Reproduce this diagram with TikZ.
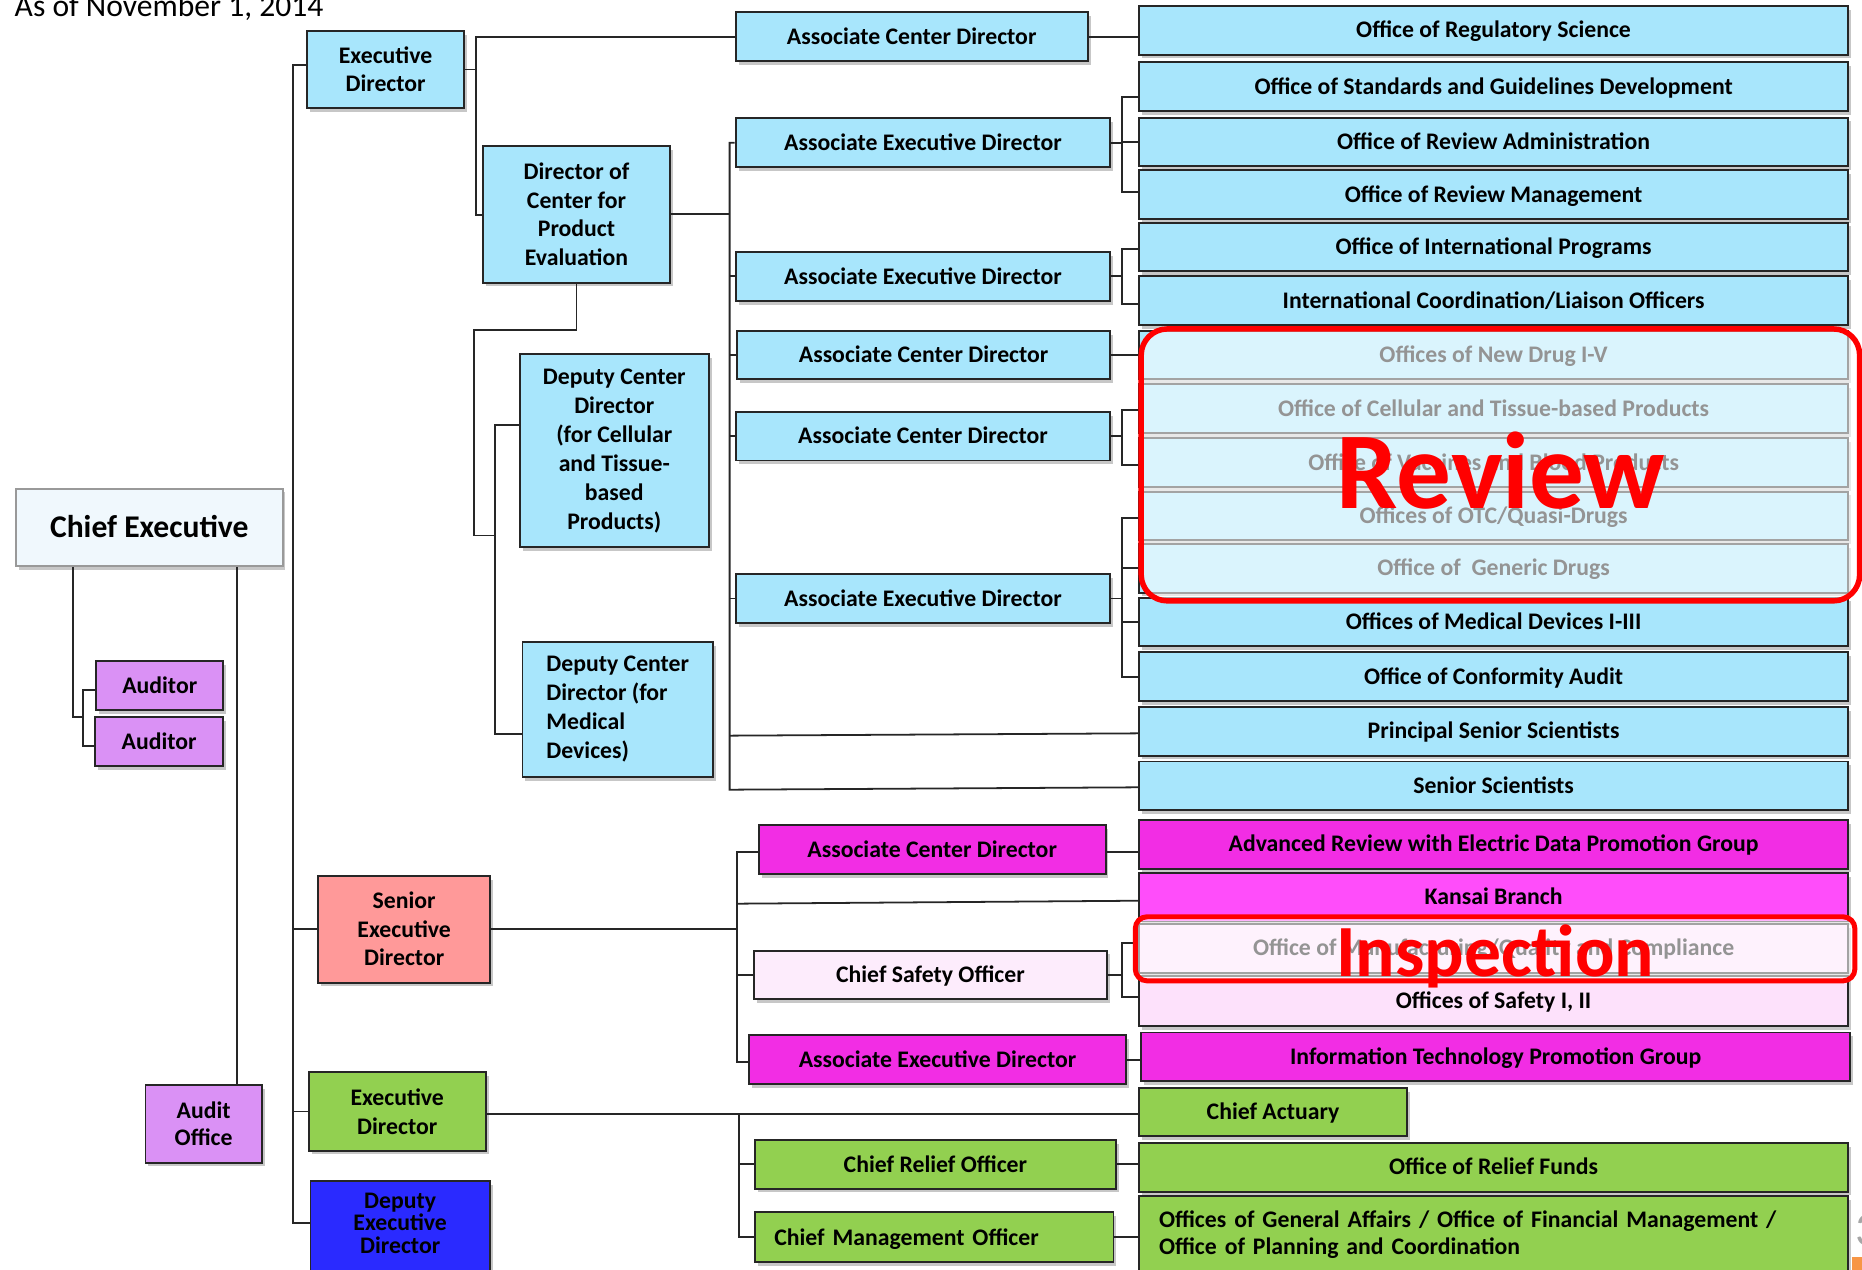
\documentclass[tikz,border=0pt]{standalone}
\usepackage{fontspec}
\setmainfont{Carlito}
\usetikzlibrary{shadows,calc}
\definecolor{lblue}{RGB}{168,230,252}
\definecolor{ceblue}{RGB}{240,248,253}
\definecolor{purp}{RGB}{218,145,245}
\definecolor{salmon}{RGB}{255,153,153}
\definecolor{grn}{RGB}{146,208,80}
\definecolor{dblue}{RGB}{42,42,255}
\definecolor{mag}{RGB}{242,45,228}
\definecolor{kmag}{RGB}{255,77,250}
\definecolor{lpink}{RGB}{253,225,251}
\definecolor{cpink}{RGB}{253,236,252}
\definecolor{slideorange}{RGB}{247,150,70}
\begin{document}
\begin{tikzpicture}[x=0.5pt,y=-0.5pt,
  bx/.style={draw=black!85, line width=0.8pt, inner sep=0pt, align=center,
    font=\bfseries\fontsize{10}{12}\selectfont,
    drop shadow={shadow xshift=1.2pt, shadow yshift=-1.6pt, fill=black, opacity=0.22}},
  oneline/.style={text height=7.44pt, text depth=1pt},
  rc/.style={bx, oneline, fill=lblue, minimum width=298.25pt, minimum height=20.5pt},
  mc/.style={bx, oneline, fill=lblue, minimum height=20.5pt},
  conn/.style={draw=black!85, line width=0.75pt},
  overlay box/.style={draw=red, line width=2.3pt, fill=white, fill opacity=0.58},
  big label/.style={text=red, font=\bfseries, inner sep=0pt, anchor=base}
]
\useasboundingbox (0,0) rectangle (1568,1069);

% title
\node[anchor=base west, inner sep=0pt, font=\fontsize{13.3}{16}\selectfont] (asof) at (12,13.5) {As of November 1, 2014};

% left column
\node[bx, draw=black!40, fill=ceblue, minimum width=112.25pt, minimum height=32.5pt, text height=9.56pt, text depth=1pt, font=\bfseries\fontsize{13.3}{16}\selectfont] (ce) at (125.75,444) {Chief Executive};
\node[bx, oneline, fill=purp, minimum width=53.5pt, minimum height=20.5pt] (aud1) at (134.5,577.5) {Auditor};
\node[bx, oneline, fill=purp, minimum width=54pt, minimum height=20.5pt] (aud2) at (134,624.5) {Auditor};
\node[bx, fill=purp, minimum width=49pt, minimum height=32.5pt, font=\bfseries\fontsize{10}{11.5}\selectfont] (ao) at (171.5,946.5) {Audit\\Office};

\node[bx, fill=lblue, minimum width=66.3pt, minimum height=32.5pt] (ed1) at (324.7,58.5) {Executive\\Director};
\node[bx, fill=lblue, minimum width=78.5pt, minimum height=57.5pt] (dircpe) at (485.5,180.5) {Director of\\Center for\\Product\\Evaluation};
\node[bx, fill=lblue, minimum width=79.7pt, minimum height=81.5pt, font=\bfseries\fontsize{10}{12.2}\selectfont] (depcell) at (517.3,379.5) {Deputy Center\\Director\\(for Cellular\\and Tissue-\\based\\Products)};
\node[bx, fill=lblue, minimum width=80.2pt, minimum height=57pt, align=left, font=\bfseries\fontsize{10}{12.2}\selectfont] (depmed) at (520.2,597.4) {Deputy Center\\Director (for\\Medical\\Devices)};

\node[bx, fill=salmon, minimum width=72.35pt, minimum height=45pt] (sed) at (340.35,782.5) {Senior\\Executive\\Director};
\node[bx, fill=grn, minimum width=74.5pt, minimum height=33pt] (ed2) at (334.5,936) {Executive\\Director};
\node[bx, fill=dblue, minimum width=75.5pt, minimum height=50pt] (ded) at (337,1044.5) {};
\node[inner sep=0pt, align=center, font=\bfseries\fontsize{10}{9.5}\selectfont] (dedt) at (337,1030) {Deputy\\Executive\\Director};

% middle column
\node[mc, minimum width=148.25pt] (acd1) at (767.75,30.9) {Associate Center Director};
\node[mc, minimum width=157.75pt] (aed1) at (777.25,120.15) {Associate Executive Director};
\node[mc, minimum width=157.75pt] (aed2) at (777.25,232.75) {Associate Executive Director};
\node[mc, minimum width=157.2pt] (acd3) at (777.8,299) {Associate Center Director};
\node[mc, minimum width=157.75pt] (acd4) at (777.25,367.25) {Associate Center Director};
\node[mc, minimum width=157.75pt] (aed3) at (777.25,504) {Associate Executive Director};
\node[bx, oneline, fill=mag, minimum width=146pt, minimum height=20.5pt] (acdm) at (785,715.35) {Associate Center Director};
\node[bx, oneline, fill=cpink, minimum width=148.5pt, minimum height=20.5pt] (cso) at (783.5,821) {Chief Safety Officer};
\node[bx, oneline, fill=mag, minimum width=158.5pt, minimum height=20.5pt] (aedm) at (789.5,892.3) {Associate Executive Director};
\node[bx, oneline, fill=grn, minimum width=151.75pt, minimum height=20.5pt] (cro) at (787.75,980.5) {Chief Relief Officer};
\node[bx, oneline, fill=grn, minimum width=150.85pt, minimum height=21pt, inner xsep=8pt, text width=134.85pt, align=left] (cmo) at (786.85,1042) {Chief Management Officer};

% right column
\node[rc] (rs)  at (1257.75,25.5)  {Office of Regulatory Science};
\node[rc] (std) at (1257.75,72.75) {Office of Standards and Guidelines Development};
\node[rc] (ra)  at (1257.75,119.5) {Office of Review Administration};
\node[rc] (rm)  at (1257.75,163.75) {Office of Review Management};
\node[rc] (ip)  at (1257.75,208)   {Office of International Programs};
\node[rc] (icl) at (1257.75,253)   {International Coordination/Liaison Officers};
\node[rc] (nd)  at (1257.75,299)   {Offices of New Drug I-V};
\node[rc] (ctp) at (1257.75,344)   {Office of Cellular and Tissue-based Products};
\node[rc] (vbp) at (1257.75,389.5) {Office of Vaccines and Blood Products};
\node[rc] (otc) at (1257.75,434.5) {Offices of OTC/Quasi-Drugs};
\node[rc] (gd)  at (1257.75,478.5) {Office of~~Generic Drugs};
\node[rc] (md)  at (1257.75,523.8) {Offices of Medical Devices I-III};
\node[rc] (ca)  at (1257.75,569.8) {Office of Conformity Audit};
\node[rc] (pss) at (1257.75,615.75) {Principal Senior Scientists};
\node[rc] (ss)  at (1257.75,661.8) {Senior Scientists};
\node[rc, fill=mag]   (ar)  at (1257.75,711)   {Advanced Review with Electric Data Promotion Group};
\node[rc, fill=kmag]  (kb)  at (1257.75,755.5) {Kansai Branch};
\node[rc, fill=lpink] (mqc) at (1257.75,798.5) {Office of Manufacturing/Quality and Compliance};
\node[rc, fill=lpink, minimum height=21pt] (saf) at (1257.75,843) {Offices of Safety I, II};
\node[rc, fill=mag, minimum width=298.5pt] (it) at (1259.5,890) {Information Technology Promotion Group};
\node[bx, oneline, fill=grn, minimum width=113pt, minimum height=20.3pt] (cact) at (1072,936.3) {Chief Actuary};
\node[rc, fill=grn] (orf) at (1257.75,983) {Office of Relief Funds};
\node[bx, fill=grn, minimum width=298.25pt, minimum height=32.5pt, inner xsep=8.25pt, text width=281.75pt, align=left, font=\bfseries\fontsize{10}{11.5}\selectfont] (ga) at (1257.75,1039.5) {Offices of General Affairs / Office of Financial Management /\\Office of Planning and Coordination};

% ---------- connectors ----------
% main spine
\coordinate (spT) at (247,55);
\coordinate (spB) at (247,1030);
\draw[conn] (spT -| ed1.west) -- (spT) -- (spB) -- (spB -| ded.west);
\draw[conn] (sed.west) -- (sed.west -| spT);
\draw[conn] (ed2.west) -- (ed2.west -| spT);

% chief executive
\coordinate (ceR) at (199.6,0);
\draw[conn] (ce.south -| ceR) -- (ao.north -| ceR);
\coordinate (ceL) at (61.6,604);
\coordinate (audBr) at (70,604);
\draw[conn] (ce.south -| ceL) -- (ceL) -- (audBr);
\draw[conn] ($(aud1.west)+(0,3.5)$) -| (audBr) |- ($(aud2.west)+(0,3.5)$);

% executive director bracket
\coordinate (b1) at (400.8,181);
\draw[conn] (ed1.east) -- (ed1.east -| b1);
\draw[conn] (acd1.west) -| (b1) -- (b1 -| dircpe.west);
\draw[conn] (acd1.east) -- (acd1.east -| rs.west);

% director of center -> middle spine
\coordinate (ms) at (614.4,121);
\coordinate (msB) at (614.4,665);
\coordinate (pssL) at (614.4,619.5);
\draw[conn] (dircpe.east) -- (dircpe.east -| ms);
\draw[conn] (aed1.west) -- (aed1.west -| ms) -- (msB) -- ($(ss.west)+(0,1.2)$);
\draw[conn] (aed2.west) -- (aed2.west -| ms);
\draw[conn] (acd3.west) -- (acd3.west -| ms);
\draw[conn] (acd4.west) -- (acd4.west -| ms);
\draw[conn] (aed3.west) -- (aed3.west -| ms);
\draw[conn] (pssL) -- ($(pss.west)+(0,1.8)$);

% director of center -> deputies
\coordinate (d1) at (399,278);
\coordinate (d2) at (417,451);
\coordinate (d3) at (417,358);
\coordinate (d4) at (417,618);
\draw[conn] (dircpe.south) |- (d1) |- (d2);
\draw[conn] (d3 -| depcell.west) -- (d3) -- (d4) -- (d4 -| depmed.west);

% right brackets
\coordinate (r1a) at (945,81.4);  \coordinate (r1b) at (945,162);
\draw[conn] (aed1.east) -- (aed1.east -| r1a);
\draw[conn] (r1a -| std.west) -- (r1a) -- (r1b) -- (r1b -| rm.west);
\draw[conn] (ra.west -| r1a) -- (ra.west);

\coordinate (r2a) at (945,210);  \coordinate (r2b) at (945,256);
\draw[conn] (aed2.east) -- (aed2.east -| r2a);
\draw[conn] (r2a -| ip.west) -- (r2a) -- (r2b) -- (r2b -| icl.west);

\draw[conn] (acd3.east) -- (acd3.east -| nd.west);

\coordinate (r4a) at (945,345);  \coordinate (r4b) at (945,391.6);
\draw[conn] (acd4.east) -- (acd4.east -| r4a);
\draw[conn] (r4a -| ctp.west) -- (r4a) -- (r4b) -- (r4b -| vbp.west);

\coordinate (r5a) at (945,436);  \coordinate (r5b) at (945,570);
\draw[conn] (aed3.east) -- (aed3.east -| r5a);
\draw[conn] (r5a -| otc.west) -- (r5a) -- (r5b) -- (r5b -| ca.west);
\draw[conn] (gd.west -| r5a) -- (gd.west);
\draw[conn] (md.west -| r5a) -- (md.west);

% senior executive director
\coordinate (ls) at (620.7,717.6);
\coordinate (lsB) at (620.7,894);
\coordinate (kbL) at (620.7,761);
\draw[conn] (sed.east) -- (sed.east -| ls);
\draw[conn] (ls -| acdm.west) -- (ls) -- (lsB) -- (lsB -| aedm.west);
\draw[conn] (ls -| acdm.east) -- (ls -| ar.west);
\draw[conn] (cso.west) -- (cso.west -| ls);
\draw[conn] (kbL) -- ($(kb.west)+(0,3)$);
\coordinate (r6a) at (945,794);  \coordinate (r6b) at (945,839.6);
\draw[conn] (cso.east) -- (cso.east -| r6a);
\draw[conn] (r6a -| mqc.west) -- (r6a) -- (r6b) -- (r6b -| saf.west);
\draw[conn] (aedm.east) -- (aedm.east -| it.west);

% executive director (green)
\coordinate (gs) at (622,938);
\coordinate (gsB) at (622,1042);
\draw[conn] (gs -| ed2.east) -- (gs -| cact.west);
\draw[conn] (gs) -- (gsB) -- (gsB -| cmo.west);
\draw[conn] (cro.west) -- (cro.west -| gs);
\draw[conn] (cro.east) -- (cro.east -| orf.west);
\draw[conn] (cmo.east) -- (cmo.east -| ga.west);

% ---------- highlight overlays ----------
\draw[overlay box, rounded corners=11pt] (961,277) rectangle (1566,506);
\node[big label, font=\bfseries\fontsize{46}{46}\selectfont] (review) at (1264,428) {Review};
\draw[overlay box, line width=2.1pt, rounded corners=5pt] (956,772) rectangle (1562,826);
\node[big label, font=\bfseries\fontsize{31}{31}\selectfont] (inspection) at (1259,822) {Inspection};

% slide remnants at the edge
\node[anchor=west, inner sep=0pt, text=black!35, font=\fontsize{20}{20}\selectfont] (pg) at (1562,1036) {3};
\fill[slideorange] (1559.3,1058.6) rectangle (1575,1075);
\end{tikzpicture}
\end{document}
